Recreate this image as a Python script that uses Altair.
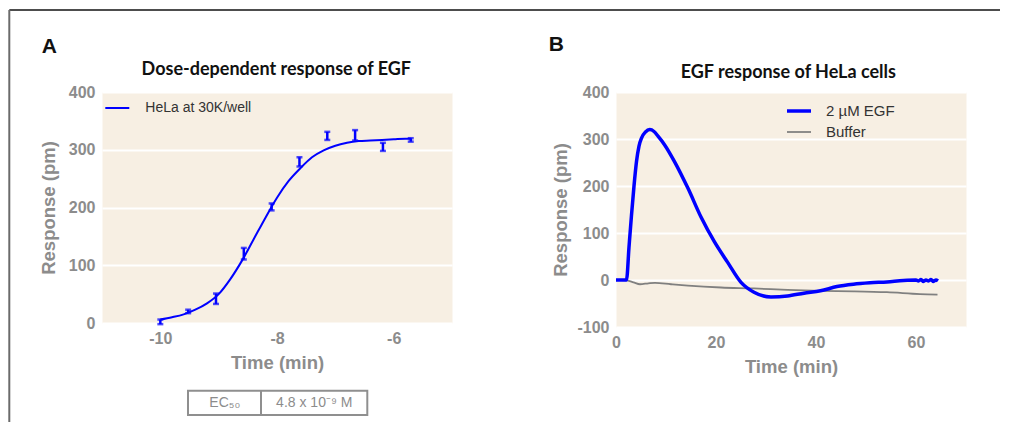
import altair as alt
import pandas as pd

# ---------------- data ----------------
# Panel A: dose response (log concentration)
dose_log = [-10.0, -9.523, -9.046, -8.569, -8.092, -7.615, -7.138, -6.661, -6.184, -5.707]
resp_mean = [2, 20, 42, 120, 201, 279, 324, 325, 305, 317]
resp_err = [4, 3, 9, 10, 6, 8, 7, 9, 7, 3]
fit_x = [-10.0, -9.8, -9.6, -9.4, -9.2, -9.0, -8.8, -8.6, -8.4, -8.2, -8.0, -7.8,
         -7.6, -7.4, -7.2, -7.0, -6.8, -6.6, -6.4, -6.2, -6.0, -5.8, -5.7]
fit_y = [6, 10, 15, 23, 34, 50, 76, 108, 145, 182, 217, 246,
         268, 287, 299, 307, 312, 315, 316, 317, 318, 319, 319]
series_a = "HeLa at 30K/well"

# Panel B: time course
t_egf = [0, 1, 2.1, 2.6, 3.1, 3.6, 4.1, 4.6, 5.1, 5.9, 6.75, 7.6, 8.4, 9.7, 11.7,
         14.4, 17.0, 19.7, 22.3, 25.0, 27.6, 31.0, 34.3, 37.6, 40.9, 44.2, 47.5,
         50.8, 54.2, 57.5, 60.0, 60.5, 61.0, 61.5, 62.0, 62.5, 63.0, 63.5, 64.0, 64.4]
y_egf = [0, 0, 0, 70, 138, 200, 252, 285, 302, 315, 320, 316, 306, 288, 252,
         195, 134, 81, 38, -5, -26, -36, -34, -28, -23, -14, -9,
         -6, -4, -1, 0, -2, 1, -3, 0, -2, 1, -3, 0, -2]
t_buf = [0, 1, 2.2, 3.5, 4.8, 6.5, 7.8, 11, 14.4, 21, 27.6, 34.3, 41, 47.5, 54.2, 60.8, 64.3]
y_buf = [0, 0, -1, -5, -9, -7, -6, -9, -12, -16, -18, -21, -23, -24, -26, -30, -31]
series_b = ["2 \u00b5M EGF", "Buffer"]

# ---------------- styling ----------------
BLUE = "#0000ff"
GRAY_LINE = "#808080"
BG = "#f7efe3"
AX_GRAY = "#8c8c8c"
W = 350
H_A = 231
H_B = 235
one = pd.DataFrame({"k": [0]})

# ---------------- panel A ----------------
dfA = pd.DataFrame({"x": dose_log, "m": resp_mean, "e": resp_err})
dfA["lo"] = dfA["m"] - dfA["e"]
dfA["hi"] = dfA["m"] + dfA["e"]
dfFit = pd.DataFrame({"x": fit_x, "y": fit_y, "s": series_a})

xA_scale = alt.Scale(domain=[-11, -5], nice=False, zero=False)
yA_scale = alt.Scale(domain=[0, 400], nice=False, zero=False)
xA_axis = alt.Axis(values=[-10, -8, -6], title="Time (min)", titleY=39,
                   titleBaseline="middle", labelFlush=False, grid=False,
                   labelExpr="toString(datum.value)")
yA_axis = alt.Axis(values=[0, 100, 200, 300, 400], title="Response (pm)",
                   titleX=-53.7, titleBaseline="middle", labelFlush=False,
                   labelExpr="toString(datum.value)")


def XA(f):
    return alt.X(f, type="quantitative", scale=xA_scale, axis=xA_axis)


def YA(f):
    return alt.Y(f, type="quantitative", scale=yA_scale, axis=yA_axis)


curveA = alt.Chart(dfFit).mark_line(strokeWidth=2, interpolate="monotone").encode(
    x=XA("x"), y=YA("y"),
    color=alt.Color("s:N", scale=alt.Scale(domain=[series_a], range=[BLUE]),
                    legend=alt.Legend(orient="none", legendX=2.3, legendY=3,
                                      symbolType="stroke", symbolSize=576,
                                      symbolStrokeWidth=2, title=None,
                                      labelFontSize=14, labelOffset=15,
                                      labelColor="#333333")),
)
barsA = alt.Chart(dfA).mark_rule(color=BLUE, strokeWidth=2.5).encode(
    x=XA("x"), y=YA("lo"), y2="hi:Q")
capLo = alt.Chart(dfA).mark_tick(color=BLUE, orient="horizontal", size=6, thickness=2.5).encode(
    x=XA("x"), y=YA("lo"))
capHi = alt.Chart(dfA).mark_tick(color=BLUE, orient="horizontal", size=6, thickness=2.5).encode(
    x=XA("x"), y=YA("hi"))

frame_top = alt.Chart(one).mark_rule(color="#4d4d4d", strokeWidth=2).encode(
    x=alt.value(-92.7), x2=alt.value(898), y=alt.value(-82))
frame_left = alt.Chart(one).mark_rule(color="#6b6b6b", strokeWidth=2).encode(
    x=alt.value(-92.7), y=alt.value(-82), y2=alt.value(330))
letterA = alt.Chart(one).mark_text(text="A", font="Liberation Sans", fontSize=21,
                                   fontWeight="bold", color="#111111",
                                   align="center", baseline="alphabetic").encode(
    x=alt.value(-52.7), y=alt.value(-39))
titleA = alt.Chart(one).mark_text(text="Dose-dependent response of EGF", font="Lato",
                                  fontSize=18, fontWeight="bold", color="#111111",
                                  align="center", baseline="middle").encode(
    x=alt.value(174.3), y=alt.value(-22))

# EC50 table
table_box = alt.Chart(one).mark_rect(fill="white", stroke="#8f8f8f", strokeWidth=2).encode(
    x=alt.value(86), x2=alt.value(265.3), y=alt.value(298.7), y2=alt.value(323))
table_div = alt.Chart(one).mark_rule(color="#8f8f8f", strokeWidth=2).encode(
    x=alt.value(159), y=alt.value(298.7), y2=alt.value(323))
ec_label = alt.Chart(one).mark_text(text="EC\u2085\u2080", font="Liberation Sans", fontSize=14,
                                    color=AX_GRAY, align="center", baseline="middle").encode(
    x=alt.value(122.8), y=alt.value(311))
ec_value = alt.Chart(one).mark_text(text="4.8 x 10\u207b\u2079 M", font="Liberation Sans",
                                    fontSize=14, color=AX_GRAY, align="center",
                                    baseline="middle").encode(
    x=alt.value(212.3), y=alt.value(311))

panelA = alt.layer(curveA, barsA, capLo, capHi, frame_top, frame_left, letterA, titleA,
                   table_box, table_div, ec_label, ec_value).properties(width=W, height=H_A)

# ---------------- panel B ----------------
dfEGF = pd.DataFrame({"t": t_egf, "y": y_egf, "s": series_b[0]})
dfBuf = pd.DataFrame({"t": t_buf, "y": y_buf, "s": series_b[1]})

xB_scale = alt.Scale(domain=[0, 70], nice=False, zero=False)
yB_scale = alt.Scale(domain=[-100, 400], nice=False, zero=False)
xB_axis = alt.Axis(values=[0, 20, 40, 60], title="Time (min)", titleY=39.7,
                   titleBaseline="middle", labelFlush=False, grid=False,
                   labelExpr="toString(datum.value)")
yB_axis = alt.Axis(values=[-100, 0, 100, 200, 300, 400], title="Response (pm)",
                   titleX=-55.7, titleBaseline="middle", labelFlush=False,
                   labelExpr="toString(datum.value)")
legB = alt.Legend(orient="none", legendX=169, legendY=5, symbolType="stroke",
                  symbolSize=576, title=None, labelFontSize=15, labelOffset=13,
                  labelColor="#333333", rowPadding=0)
colB = alt.Color("s:N", scale=alt.Scale(domain=series_b, range=[BLUE, GRAY_LINE]), legend=legB)
swB = alt.StrokeWidth("s:N", scale=alt.Scale(domain=series_b, range=[3.5, 1.8]), legend=legB)

bufLine = alt.Chart(dfBuf).mark_line(interpolate="monotone").encode(
    x=alt.X("t:Q", scale=xB_scale, axis=xB_axis),
    y=alt.Y("y:Q", scale=yB_scale, axis=yB_axis),
    color=colB, strokeWidth=swB)
egfLine = alt.Chart(dfEGF).mark_line(interpolate="monotone").encode(
    x=alt.X("t:Q", scale=xB_scale, axis=xB_axis),
    y=alt.Y("y:Q", scale=yB_scale, axis=yB_axis),
    color=colB, strokeWidth=swB)
letterB = alt.Chart(one).mark_text(text="B", font="Liberation Sans", fontSize=21,
                                   fontWeight="bold", color="#111111",
                                   align="center", baseline="alphabetic").encode(
    x=alt.value(-59.7), y=alt.value(-41))
titleB = alt.Chart(one).mark_text(text="EGF response of HeLa cells", font="Lato",
                                  fontSize=18, fontWeight="bold", color="#111111",
                                  align="center", baseline="middle").encode(
    x=alt.value(172.3), y=alt.value(-19))

panelB = alt.layer(bufLine, egfLine, letterB, titleB).properties(width=W, height=H_B)

# ---------------- assemble ----------------
chart = alt.hconcat(panelA, panelB, spacing=164, bounds="flush").resolve_scale(
    x="independent", y="independent", color="independent", strokeWidth="independent"
).resolve_legend(color="independent", strokeWidth="independent").properties(
    padding={"left": 0, "top": 1, "right": 0, "bottom": 0}
).configure_view(fill=BG, strokeOpacity=0).configure_axis(
    labelFont="Liberation Sans", labelFontSize=16, labelFontWeight="bold",
    labelColor=AX_GRAY, labelPadding=7,
    titleFont="Liberation Sans", titleFontSize=18.5, titleFontWeight="bold",
    titleColor=AX_GRAY, gridColor="white", gridWidth=2, gridOpacity=1,
    domain=False, ticks=False,
).configure_legend(labelFont="Liberation Sans")

chart.save("out.html", embed_options={"renderer": "svg", "actions": False})
